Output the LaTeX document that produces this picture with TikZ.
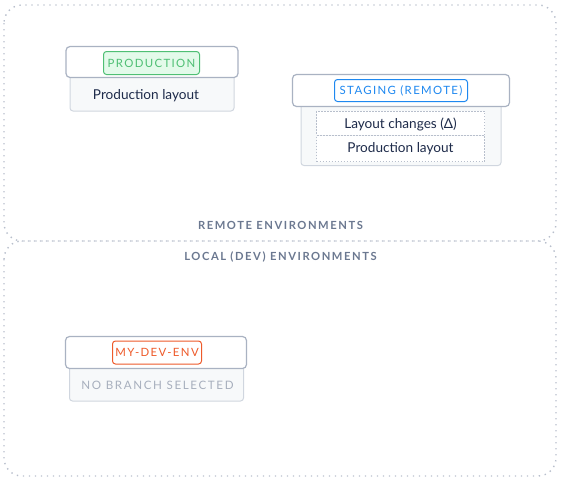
\documentclass[tikz,border=0pt]{standalone}
\usepackage{fontspec}
\setmainfont{Lato}
\definecolor{hdrborder}{HTML}{A9B2C2}
\definecolor{bodyborder}{HTML}{D0D6DF}
\definecolor{bodyfill}{HTML}{F7F9FA}
\definecolor{navy}{HTML}{1E2B4A}
\definecolor{secgray}{HTML}{6B7890}
\definecolor{dotgray}{HTML}{B8BFCC}
\definecolor{tgreen}{HTML}{4FBF74}
\definecolor{tgreenfill}{HTML}{E3FAEA}
\definecolor{tblue}{HTML}{1E88F0}
\definecolor{torange}{HTML}{EE5A2A}
\definecolor{nobranch}{HTML}{A7AFBD}
\begin{document}
\begin{tikzpicture}[x=1pt,y=-1pt,
  region/.style={draw=dotgray, line width=1.4pt, dash pattern=on 1.4pt off 4.6pt, rounded corners=18pt},
  hdr/.style={draw=hdrborder, fill=white, line width=1.2pt, rounded corners=4pt, inner sep=0pt},
  bodybox/.style={draw=bodyborder, fill=bodyfill, line width=1pt, rounded corners=3pt, inner sep=0pt},
  inbox/.style={draw=dotgray, fill=white, line width=0.8pt, dash pattern=on 1.5pt off 1.5pt, inner sep=0pt},
  tag/.style={rounded corners=3pt, line width=1pt, inner sep=0pt, font=\fontsize{11.4}{13}\selectfont\addfontfeature{LetterSpace=12}},
  sec/.style={font=\fontsize{11.2}{13}\selectfont\bfseries\addfontfeature{LetterSpace=14}, text=secgray, inner sep=0pt},
  bodytxt/.style={font=\fontsize{13.6}{15}\selectfont, text=navy, inner sep=0pt}
]
\useasboundingbox (0,0) rectangle (563,485);
% regions
\draw[region] (4,5) rectangle (556,241);
\draw[region] (4,241) rectangle (556,476);
\node[sec] (remote) at (280.5,225.5) {REMOTE ENVIRONMENTS};
\node[sec] (local) at (280.5,256.5) {LOCAL (DEV) ENVIRONMENTS};

% production
\node[bodybox, minimum width=164pt, minimum height=40pt] (prodbody) at (152,91) {};
\node[hdr, minimum width=172pt, minimum height=31pt] (prodhdr) at (152,62) {};
\node[tag, draw=tgreen, fill=tgreenfill, text=tgreen, minimum width=96pt, minimum height=23pt] (prodtag) at (151.5,63) {PRODUCTION};
\node[bodytxt] (prodtxt) at (146,95.5) {Production layout};

% staging
\node[bodybox, minimum width=200pt, minimum height=66pt] (stgbody) at (401,132.5) {};
\node[hdr, minimum width=217pt, minimum height=32pt] (stghdr) at (401,90.5) {};
\node[tag, draw=tblue, fill=white, text=tblue, minimum width=133pt, minimum height=22pt] (stgtag) at (401,90.5) {STAGING (REMOTE)};
\node[inbox, minimum width=168pt, minimum height=24pt] (delta) at (400.5,123) {};
\node[inbox, minimum width=168pt, minimum height=26pt] (stgprod) at (400.5,148.5) {};
\node[bodytxt] (deltatxt) at (400.5,124) {Layout changes (Δ)};
\node[bodytxt] (stgprodtxt) at (400.5,149) {Production layout};

% dev env
\node[bodybox, minimum width=174pt, minimum height=40pt] (devbody) at (156.5,381) {};
\node[hdr, minimum width=181pt, minimum height=32pt] (devhdr) at (156,352.5) {};
\node[tag, draw=torange, fill=white, text=torange, minimum width=89pt, minimum height=23pt] (devtag) at (157,352.5) {MY-DEV-ENV};
\node[font=\fontsize{11.6}{13}\selectfont\addfontfeature{LetterSpace=14}, text=nobranch, inner sep=0pt] (nobr) at (157.5,385) {NO BRANCH SELECTED};
\end{tikzpicture}
\end{document}
